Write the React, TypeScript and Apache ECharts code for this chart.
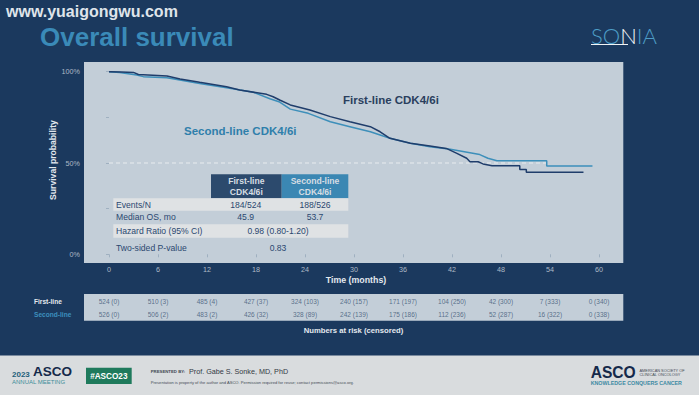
import React, { useEffect, useRef } from 'react';
import * as echarts from 'echarts';

// Kaplan–Meier curves (months, survival %)
const firstLineTime = [0, 1.5, 3, 3.6, 7.1, 8.7, 11.1, 14.4, 16.0, 19.3, 20.1, 20.9, 22.2, 24.6, 27.1, 29.5, 32.0, 33.2, 34.4, 36.9, 39.3, 41.3, 42.6, 43.8, 44.2, 45.2, 45.8, 46.9, 50.3, 50.3, 51.1, 51.1, 58.1];
const firstLineSurv = [100, 99.8, 99.6, 98.5, 97.6, 96.0, 94.2, 91.8, 90.0, 87.6, 86.3, 84.5, 81.8, 79.0, 75.4, 72.6, 69.9, 67.1, 63.5, 60.8, 59.3, 58.0, 55.3, 52.6, 50.7, 50.7, 49.5, 48.5, 48.5, 46.5, 46.5, 44.9, 44.9];
const secondLineTime = [0, 1.3, 3.4, 4.2, 7.1, 11.1, 14.4, 17.7, 19.7, 20.9, 22.2, 24.4, 27.1, 29.5, 32.0, 33.2, 34.4, 36.9, 39.3, 41.8, 45.4, 46.4, 47.5, 53.6, 53.6, 59.2];
const secondLineSurv = [100, 99.6, 98.2, 97.3, 96.7, 93.6, 91.2, 88.7, 85.2, 83.4, 79.5, 77.2, 72.6, 69.9, 67.1, 65.3, 63.5, 60.8, 58.9, 57.5, 54.6, 52.6, 51.2, 51.2, 48.4, 48.4];

const medianSecondLine = 53.7;
const yLabelled = [0, 50, 100];

// Numbers at risk (censored)
const riskMonths = [0, 6, 12, 18, 24, 30, 36, 42, 48, 54, 60];
const firstAtRisk = [524, 510, 485, 427, 324, 240, 171, 104, 42, 7, 0];
const firstCensored = [0, 3, 4, 37, 103, 157, 197, 250, 300, 333, 340];
const secondAtRisk = [526, 506, 483, 426, 328, 242, 175, 112, 52, 16, 0];
const secondCensored = [0, 2, 2, 32, 89, 139, 186, 236, 287, 322, 338];
const riskRows = ['First-line', 'Second-line'];

// Statistics table
const tableHeaders = ['First-line\nCDK4/6i', 'Second-line\nCDK4/6i'];
const rowNames = ['Events/N', 'Median OS, mo', 'Hazard Ratio (95% CI)', 'Two-sided P-value'];
const eventsN = ['184/524', '188/526'];
const medianOS = ['45.9', '53.7'];
const hazardRatio = '0.98 (0.80-1.20)';
const pValue = '0.83';

const FONT = '"Liberation Sans", Arial, Helvetica, sans-serif';
const NAVY = '#1b395e';
const PANEL = '#c3ced8';
const DARK_LINE = '#1f3d6b';
const LIGHT_LINE = '#3d8fba';
const TEAL = '#3a8ab8';
const TABLE_TEXT = '#2b4870';

function txt(x: number, y: number, text: string, size: number, color: string, opts: any = {}) {
  return {
    type: 'text',
    x,
    y,
    z: opts.z ?? 20,
    rotation: opts.rotation ?? 0,
    style: {
      text,
      x: 0,
      y: 0,
      fill: color,
      fontSize: size,
      fontWeight: opts.weight ?? 'normal',
      fontFamily: opts.family ?? FONT,
      align: opts.align ?? 'left',
      verticalAlign: 'middle',
      lineHeight: opts.lineHeight,
    },
  };
}

function rect(x: number, y: number, w: number, h: number, color: string, z = -5) {
  return { type: 'rect', z, shape: { x, y, width: w, height: h }, style: { fill: color } };
}

export default function App() {
  const ref = useRef<HTMLDivElement>(null);

  useEffect(() => {
    if (!ref.current) return;
    const chart = echarts.init(ref.current, undefined, { renderer: 'svg' });

    const firstData = firstLineTime.map((t, i) => [t, firstLineSurv[i]]);
    const secondData = secondLineTime.map((t, i) => [t, secondLineSurv[i]]);
    const riskData1 = riskMonths.map((m, i) => ({ value: [m, riskRows[0]], lab: `${firstAtRisk[i]} (${firstCensored[i]})` }));
    const riskData2 = riskMonths.map((m, i) => ({ value: [m, riskRows[1]], lab: `${secondAtRisk[i]} (${secondCensored[i]})` }));

    const tableX = 113.3;
    const tableW = 235;
    const c1 = 245.7;
    const c2 = 315;
    const cMid = 278;

    const graphics: any[] = [
      // backgrounds
      rect(84, 62, 539.3, 201, PANEL, -10),
      rect(84, 294, 539.3, 26.7, PANEL, -10),
      rect(0, 355.5, 699, 39.5, '#d9dcde', -10),
      // stats table
      rect(211, 174.3, 70.7, 24, '#2c4a6d', 5),
      rect(281.7, 174.3, 66.6, 24, '#3b87b3', 5),
      rect(tableX, 198.3, tableW, 12.4, '#dfe2e4', 5),
      rect(tableX, 224.3, tableW, 13.4, '#dfe2e4', 5),
      txt(246.3, 186.4, tableHeaders[0], 8.6, '#d6dde3', { weight: 'bold', align: 'center', lineHeight: 10.7 }),
      txt(315, 186.4, tableHeaders[1], 8.6, '#d6dde3', { weight: 'bold', align: 'center', lineHeight: 10.7 }),
      txt(116, 205, rowNames[0], 8.6, TABLE_TEXT),
      txt(116, 217.3, rowNames[1], 8.6, TABLE_TEXT),
      txt(116, 231, rowNames[2], 8.6, TABLE_TEXT),
      txt(116, 247.7, rowNames[3], 8.6, TABLE_TEXT),
      txt(c1, 205, eventsN[0], 8.6, TABLE_TEXT, { align: 'center' }),
      txt(c2, 205, eventsN[1], 8.6, TABLE_TEXT, { align: 'center' }),
      txt(c1, 217.3, medianOS[0], 8.6, TABLE_TEXT, { align: 'center' }),
      txt(c2, 217.3, medianOS[1], 8.6, TABLE_TEXT, { align: 'center' }),
      txt(cMid, 231, hazardRatio, 8.6, TABLE_TEXT, { align: 'center' }),
      txt(cMid, 247.7, pValue, 8.6, TABLE_TEXT, { align: 'center' }),
      // curve labels
      txt(343, 100, 'First-line CDK4/6i', 11.5, '#2a3f5e', { weight: 'bold' }),
      txt(184, 131, 'Second-line CDK4/6i', 11.5, '#2f7fab', { weight: 'bold' }),
      // axis titles
      txt(53, 160, 'Survival probability', 8.6, '#e3e8ee', { weight: 'bold', align: 'center', rotation: Math.PI / 2 }),
      txt(356, 279.5, 'Time (months)', 8.8, '#e3e8ee', { weight: 'bold', align: 'center' }),
      // risk table
      txt(34, 301, riskRows[0], 6.6, '#e6eaee', { weight: 'bold' }),
      txt(34, 314.3, riskRows[1], 6.6, '#3d8fbd', { weight: 'bold' }),
      txt(353.5, 330, 'Numbers at risk (censored)', 7.7, '#e3e8ee', { weight: 'bold', align: 'center' }),
      // title + watermark
      txt(40, 37, 'Overall survival', 26, TEAL, { weight: 'bold' }),
      txt(6, 11.5, 'www.yuaigongwu.com', 16, '#dfe4ea', { weight: 'bold' }),
      // logo
      {
        type: 'text', x: 591, y: 35, z: 20,
        style: {
          text: '{a|SO}{b|N}{a|IA}', x: 0, y: 0, verticalAlign: 'middle',
          rich: {
            a: { fill: '#4d9dc6', fontSize: 22, fontFamily: 'Lato, "Open Sans", sans-serif', fontWeight: 300 },
            b: { fill: '#f2f4f6', fontSize: 22, fontFamily: 'Lato, "Open Sans", sans-serif', fontWeight: 300 },
          },
        },
      },
      { type: 'line', z: 20, shape: { x1: 591, y1: 44.5, x2: 628, y2: 44.5 }, style: { stroke: '#f2f4f6', lineWidth: 1 } },
      // footer
      txt(12, 374, '2023', 8, '#1f5f7a', { weight: 'bold' }),
      txt(33, 371.7, 'ASCO', 13.5, '#15294a', { weight: 'bold' }),
      txt(12, 381.7, 'ANNUAL MEETING', 6, '#3c8d99'),
      rect(86, 367.7, 45.7, 16.3, '#1f7a5c', 5),
      txt(108.8, 376, '#ASCO23', 8.2, '#ffffff', { weight: 'bold', align: 'center' }),
      txt(150.7, 371.7, 'PRESENTED BY:', 4.3, '#444b55', { weight: 'bold' }),
      txt(189, 371, 'Prof. Gabe S. Sonke, MD, PhD', 7.2, '#333a44'),
      txt(150.7, 382, 'Presentation is property of the author and ASCO. Permission required for reuse; contact permissions@asco.org.', 4.1, '#444b55'),
      txt(590.7, 372.5, 'ASCO', 15.6, '#15294a', { weight: 'bold' }),
      txt(639.5, 370, 'AMERICAN SOCIETY OF', 3.9, '#444b55'),
      txt(639.5, 374.5, 'CLINICAL ONCOLOGY', 3.9, '#444b55'),
      txt(590.7, 383.3, 'KNOWLEDGE CONQUERS CANCER', 5.3, '#3b8aa3', { weight: 'bold' }),
    ];

    const axisLabelStyle = { color: '#aebac6', fontSize: 7.2, fontFamily: FONT };

    chart.setOption({
      animation: false,
      backgroundColor: NAVY,
      grid: [
        { left: 109, right: 100, top: 71.7, bottom: 140.7 },
        { left: 109, right: 100, top: 294.5, height: 26.6 },
      ],
      xAxis: [
        {
          type: 'value', gridIndex: 0, min: 0, max: 60, interval: 6, offset: 8.7,
          axisLine: { show: false },
          axisTick: { show: true, length: 3, lineStyle: { color: '#9fb0c0' } },
          axisLabel: { ...axisLabelStyle, margin: 3 },
          splitLine: { show: false },
        },
        {
          type: 'value', gridIndex: 1, min: 0, max: 60, interval: 6, show: false,
        },
      ],
      yAxis: [
        {
          type: 'value', gridIndex: 0, min: 0, max: 100, interval: 25, offset: 25,
          axisLine: { show: false },
          axisTick: { show: true, length: 3, lineStyle: { color: '#9fb0c0' } },
          axisLabel: {
            ...axisLabelStyle, margin: 4,
            formatter: (v: number) => (yLabelled.includes(v) ? `${v}%` : ''),
          },
          splitLine: { show: false },
        },
        {
          type: 'category', gridIndex: 1, data: riskRows, inverse: true, show: false,
        },
      ],
      series: [
        {
          type: 'line', name: 'ref', xAxisIndex: 0, yAxisIndex: 0, z: 1,
          data: [[0, 50], [medianSecondLine, 50]], symbol: 'none',
          lineStyle: { color: '#e8ecef', width: 1, type: [4, 3] },
        },
        {
          type: 'line', name: 'Second-line CDK4/6i', xAxisIndex: 0, yAxisIndex: 0, z: 3,
          data: secondData, symbol: 'none',
          lineStyle: { color: LIGHT_LINE, width: 1.5 },
        },
        {
          type: 'line', name: 'First-line CDK4/6i', xAxisIndex: 0, yAxisIndex: 0, z: 4,
          data: firstData, symbol: 'none',
          lineStyle: { color: DARK_LINE, width: 1.5 },
        },
        {
          type: 'scatter', xAxisIndex: 1, yAxisIndex: 1, data: riskData1, symbolSize: 1,
          itemStyle: { color: 'rgba(0,0,0,0)' },
          label: { show: true, position: 'inside', formatter: (p: any) => p.data.lab, color: '#3b5575', fontSize: 6.5, fontFamily: FONT },
        },
        {
          type: 'scatter', xAxisIndex: 1, yAxisIndex: 1, data: riskData2, symbolSize: 1,
          itemStyle: { color: 'rgba(0,0,0,0)' },
          label: { show: true, position: 'inside', formatter: (p: any) => p.data.lab, color: '#3b5575', fontSize: 6.5, fontFamily: FONT },
        },
      ],
      graphic: { elements: graphics },
    });

    return () => chart.dispose();
  }, []);

  return (
    <div
      ref={ref}
      style={{ position: 'absolute', left: 0, top: 0, width: 699, height: 395 }}
    />
  );
}
